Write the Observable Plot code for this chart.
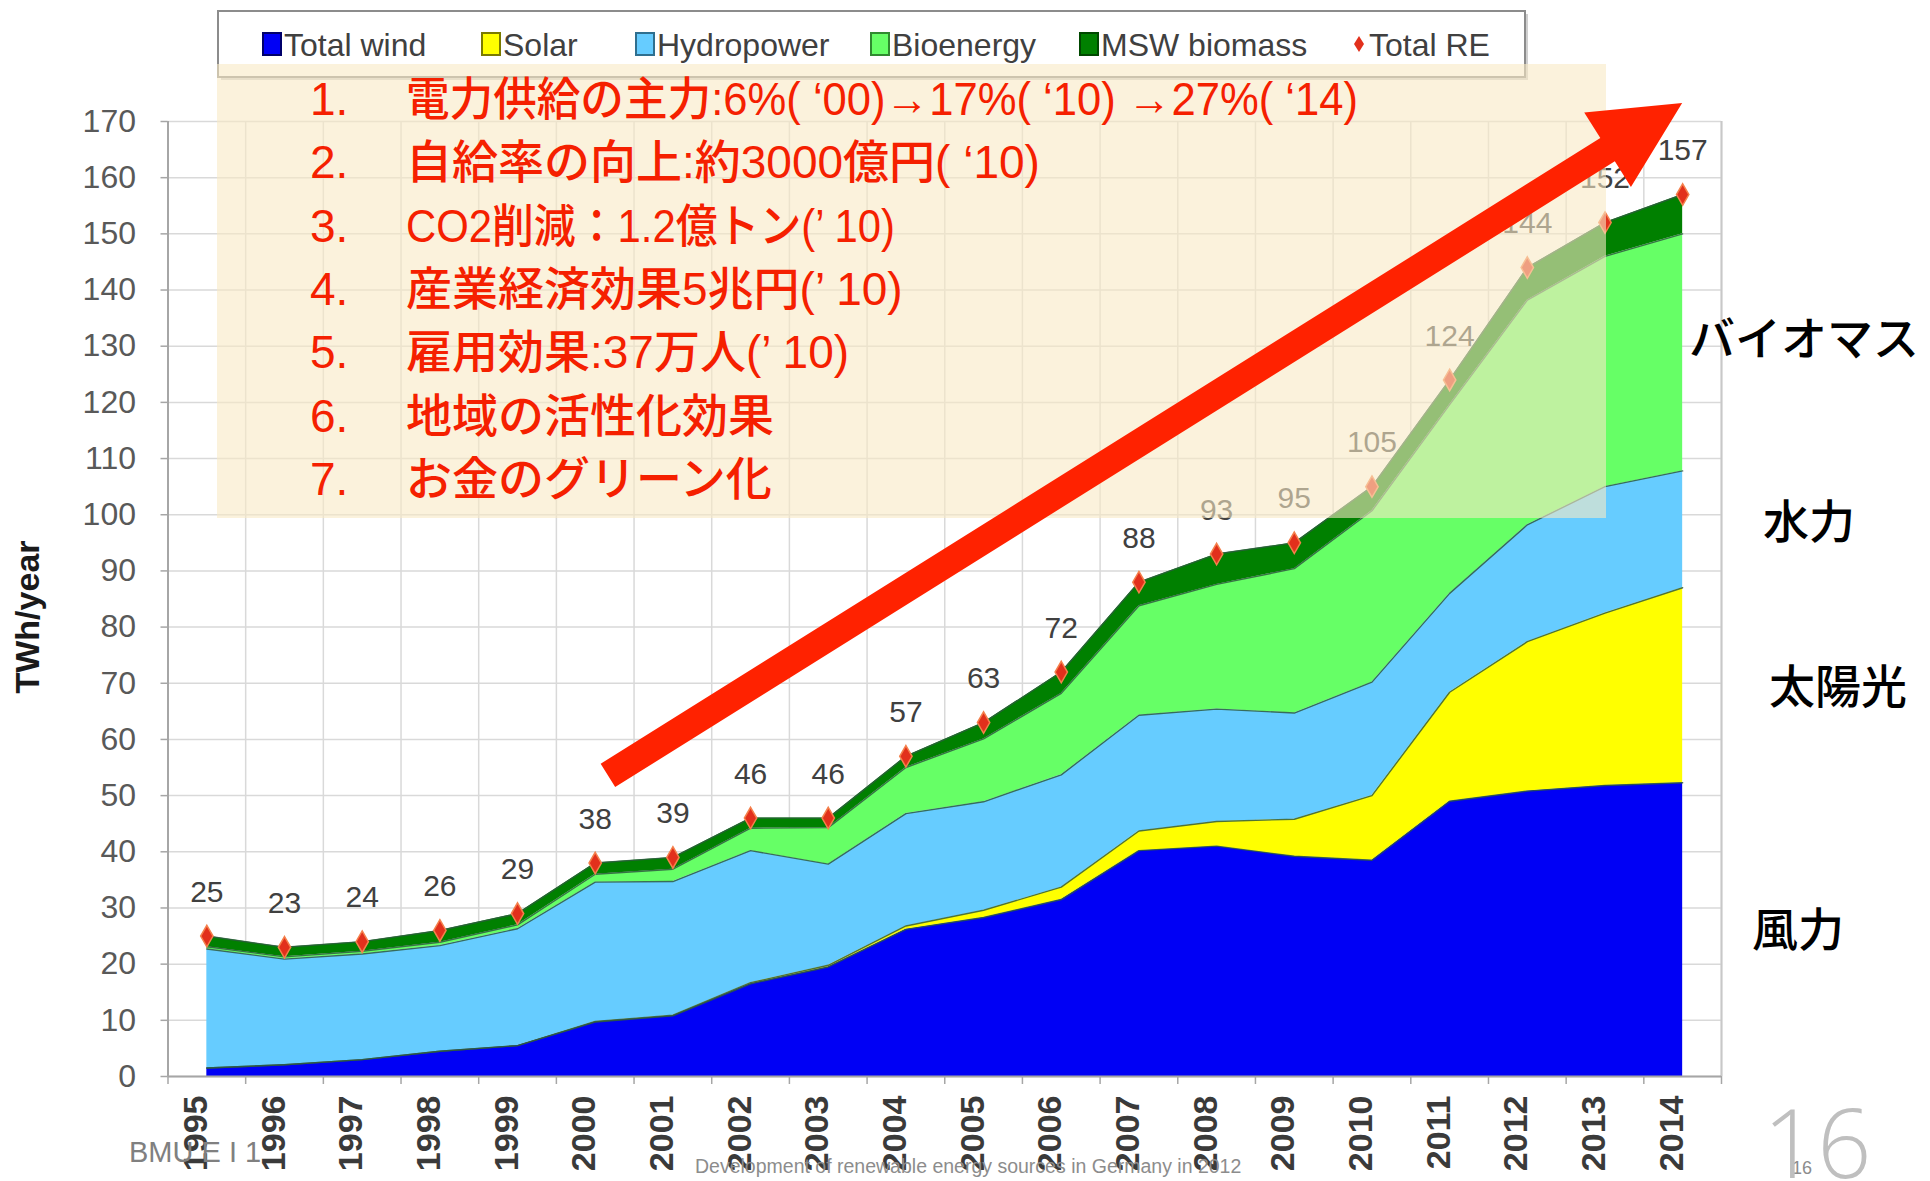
<!DOCTYPE html>
<html><head><meta charset="utf-8">
<script src="https://cdn.jsdelivr.net/npm/d3@7"></script>
<script src="https://cdn.jsdelivr.net/npm/@observablehq/plot@0.6"></script>
<style>
html,body{margin:0;padding:0;background:#fff;overflow:hidden}
#chart{position:relative;width:1930px;height:1181px}
</style></head>
<body><div id="chart"></div>
<script>
// ---- data ----
const years = [1995,1996,1997,1998,1999,2000,2001,2002,2003,2004,2005,2006,2007,2008,2009,2010,2011,2012,2013,2014];
const wind  = [1.5,2.1,3.0,4.5,5.5,9.7,10.8,16.5,19.5,26.2,28.3,31.5,40.2,41.0,39.2,38.5,49.0,50.8,51.8,52.3];
const solar = [0,0,0,0,0,0.1,0.1,0.2,0.3,0.6,1.3,2.2,3.5,4.4,6.6,11.5,19.4,26.6,30.7,34.7];
const hydro = [21.2,18.8,18.8,18.8,20.8,24.8,23.8,23.5,18.0,20.0,19.3,20.0,20.6,20.0,18.9,20.2,17.6,20.8,22.5,20.8];
const bio   = [0.4,0.4,0.5,0.6,0.7,1.4,2.2,4.0,6.5,8.2,11.2,14.5,19.5,22.2,25.7,30.5,33.6,40.0,41.0,42.2];
const msw   = [1.9,1.7,1.7,2.1,2.0,2.0,2.1,1.8,1.7,2.0,2.9,3.8,4.2,5.4,4.6,4.3,4.4,5.8,6.0,7.0];
const totalRE = [25,23,24,26,29,38,39,46,46,57,63,72,88,93,95,105,124,144,152,157];
const seriesNames = ["Total wind","Solar","Hydropower","Bioenergy","MSW biomass"];
const totalName = "Total RE";
const yTicks = [0,10,20,30,40,50,60,70,80,90,100,110,120,130,140,150,160,170];
const yTitle = "TWh/year";
const notes = [
  "電力供給の主力:6%( ‘00)→17%( ‘10) →27%( ‘14)",
  "自給率の向上:約3000億円( ‘10)",
  "CO2削減：1.2億トン(’ 10)",
  "産業経済効果5兆円(’ 10)",
  "雇用効果:37万人(’ 10)",
  "地域の活性化効果",
  "お金のグリーン化"
];
const sideLabels = ["バイオマス","水力","太陽光","風力"];
const footerLeft = "BMU E I 1";
const footerSource = "Development of renewable energy sources in Germany in 2012";
const pageNumber = "16";
const arrowFrom = {year: 2000.17, value: 53.5};
const arrowTo = {year: 2014.0, value: 173.2};

// ---- styles ----
const seriesColors = ["#0000f5","#ffff00","#66ccff","#66ff66","#008000"];
const legendBorders = ["#00006a","#7a7a00","#2f6f8f","#2f8a2f","#004800"];

// ---- tables ----
const seriesValues = [wind, solar, hydro, bio, msw];
const long = [];
seriesNames.forEach((s, si) => years.forEach((yr, i) => long.push({year: yr, source: s, value: seriesValues[si][i]})));
const totals = years.map((yr, i) => ({year: yr, total: totalRE[i]}));
const edges = [...years.map(y => y - 0.5), years[years.length - 1] + 0.5];

const plot = Plot.plot({
  width: 1930, height: 1181,
  marginLeft: 167.5, marginRight: 209, marginTop: 121, marginBottom: 105,
  x: {type: "linear", domain: [years[0] - 0.5, years[years.length - 1] + 0.5], axis: null},
  y: {domain: [0, 170], axis: null},
  color: {domain: seriesNames, range: seriesColors},
  style: {background: "#fff", fontFamily: "'Liberation Sans', Arial, sans-serif", overflow: "visible"},
  marks: [
    Plot.ruleY(yTicks, {stroke: "#d9d9d9", strokeWidth: 1.5}),
    Plot.ruleX(edges, {stroke: "#d9d9d9", strokeWidth: 1.5}),
    Plot.areaY(long, {x: "year", y: "value", fill: "source", order: seriesNames}),
    Plot.lineY(long, Plot.stackY2({x: "year", y: "value", z: "source", order: seriesNames, stroke: "#2e5b40", strokeWidth: 1.4, strokeOpacity: 0.85})),
    Plot.ruleX([edges[0]], {stroke: "#a6a6a6", strokeWidth: 2}),
    Plot.ruleX([edges[edges.length - 1]], {stroke: "#c8c8c8", strokeWidth: 2}),
    Plot.ruleY([0], {stroke: "#a6a6a6", strokeWidth: 2}),
    Plot.ruleX(edges, {y1: 0, y2: 0, insetBottom: -8, stroke: "#a6a6a6", strokeWidth: 1.5}),
    Plot.ruleY(yTicks, {x1: edges[0], x2: edges[0], insetLeft: -7, stroke: "#a6a6a6", strokeWidth: 1.5}),
    Plot.dot(totals, {x: "year", y: "total", symbol: "diamond", r: 6.5, fill: "#e2301c", stroke: "#f4804c", strokeWidth: 1.5}),
    Plot.text(totals, {x: "year", y: "total", text: d => String(d.total), dy: -44, fontSize: 30, fill: "#404040"}),
    Plot.text(yTicks, {y: d => d, frameAnchor: "left", dx: -32, textAnchor: "end", text: d => String(d), fontSize: 32, fill: "#595959"}),
    Plot.text(years, {x: d => d, frameAnchor: "bottom", rotate: -90, textAnchor: "end", dy: 19, text: d => String(d), fontSize: 34, fontWeight: "bold", fill: "#3a3a3a"}),
    Plot.text([yTitle], {frameAnchor: "left", dx: -140, dy: 18, rotate: -90, textAnchor: "middle", text: d => d, fontSize: 34, fontWeight: "bold", fill: "#1a1a1a"})
  ]
});
document.getElementById("chart").appendChild(plot);

// ---- annotations ----
const svg = d3.select(plot);
const X = v => plot.scale("x").apply(v);
const Y = v => plot.scale("y").apply(v);
const latin = "'Liberation Sans', Arial, sans-serif";
const ann = svg.append("g").attr("text-anchor", "start");
function txt(g, x, y, size, family, fill, t, weight) {
  return g.append("text").attr("x", x).attr("y", y).attr("text-anchor", "start")
    .attr("font-size", size).attr("font-family", family).attr("font-weight", weight || "normal")
    .attr("fill", fill).text(t);
}

// footer texts
txt(ann, 129, 1162, 29, latin, "#808080", footerLeft);
txt(ann, 695, 1173, 19.5, latin, "#8c8c8c", footerSource);
txt(ann, 1792, 1174, 18, latin, "#8c8c8c", pageNumber);
txt(ann, 1763, 1178, 95, "'Open Sans', sans-serif", "#bfbfbf", pageNumber, 300);

// legend box
const lg = ann.append("g");
lg.append("rect").attr("x", 221).attr("y", 14).attr("width", 1307).attr("height", 66).attr("fill", "#cfcfcf");
lg.append("rect").attr("x", 218).attr("y", 11).attr("width", 1307).attr("height", 66).attr("fill", "#fff").attr("stroke", "#8c8c8c").attr("stroke-width", 2);
const legendX = [263, 482, 636, 871, 1080, 1359];
seriesNames.forEach((name, i) => {
  lg.append("rect").attr("x", legendX[i]).attr("y", 33).attr("width", 18).attr("height", 22)
    .attr("fill", seriesColors[i]).attr("stroke", legendBorders[i]).attr("stroke-width", 2);
  txt(lg, legendX[i] + 21, 55.5, 32, latin, "#404040", name);
});
{
  const cx = legendX[5], cy = 44;
  lg.append("path").attr("d", `M${cx},${cy - 8}L${cx + 5},${cy}L${cx},${cy + 8}L${cx - 5},${cy}Z`).attr("fill", "#e2301c");
  txt(lg, cx + 10, 55.5, 32, latin, "#404040", totalName);
}

// cream translucent panel
ann.append("rect").attr("x", 217).attr("y", 64).attr("width", 1389).attr("height", 454)
  .attr("fill", "#f9e9c4").attr("fill-opacity", 0.6);

// red numbered notes
const notesFont = "'Liberation Sans Narrow', 'Liberation Sans', 'Noto Sans CJK JP', sans-serif";
const noteFit = [952, null, 489, null, null, null, null]; // rendered line widths in px (layout)
notes.forEach((t, i) => {
  const base = 98 + i * 63.3 + 17;
  txt(ann, 310, base, 46, notesFont, "#f52000", `${i + 1}.`, 500);
  const el = txt(ann, 406, base, 46, notesFont, "#f52000", t, 500);
  if (noteFit[i]) el.attr("textLength", noteFit[i]).attr("lengthAdjust", "spacingAndGlyphs");
});

// big red arrow (endpoints in data space)
{
  const x0 = X(arrowFrom.year), y0 = Y(arrowFrom.value);
  const x1 = X(arrowTo.year), y1 = Y(arrowTo.value);
  const len = Math.hypot(x1 - x0, y1 - y0);
  const ux = (x1 - x0) / len, uy = (y1 - y0) / len;
  const nx = -uy, ny = ux;
  const w = 13.7, L = 88, H = 44;
  const bx = x1 - ux * L, by = y1 - uy * L;
  const pts = [
    [x0 + nx * w, y0 + ny * w], [bx + nx * w, by + ny * w], [bx + nx * H, by + ny * H],
    [x1, y1],
    [bx - nx * H, by - ny * H], [bx - nx * w, by - ny * w], [x0 - nx * w, y0 - ny * w]
  ];
  ann.append("polygon").attr("points", pts.map(p => p.join(",")).join(" ")).attr("fill", "#ff2200");
}

// right-side Japanese labels
const sidePos = [[1689, 338], [1763, 521], [1769, 686], [1752, 929]];
sideLabels.forEach((t, i) => {
  txt(ann, sidePos[i][0], sidePos[i][1] + 17, 46, "'Noto Sans CJK JP', sans-serif", "#000", t, 500);
});
</script>
</body></html>
